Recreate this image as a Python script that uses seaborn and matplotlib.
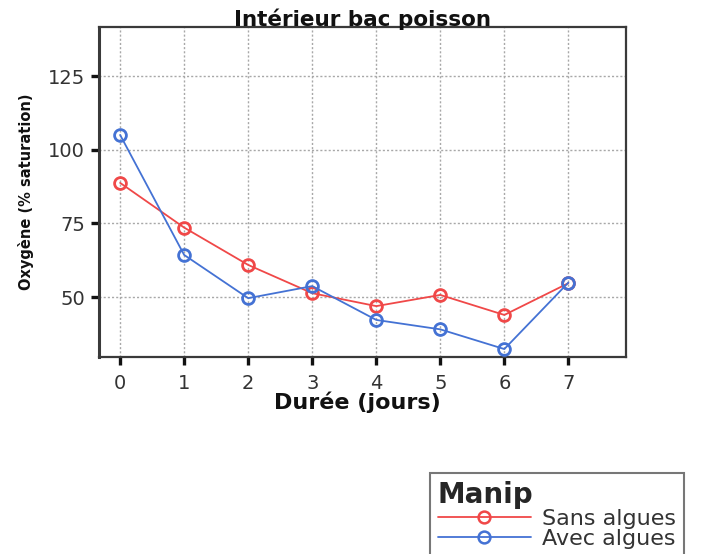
import matplotlib
matplotlib.use("Agg")
import matplotlib.pyplot as plt
from matplotlib.lines import Line2D
import seaborn as sns
import pandas as pd

# Oxygen measurements inside the fish tank, per day
jours = [0, 1, 2, 3, 4, 5, 6, 7]
sans_algues = [88.8, 73.6, 60.9, 51.3, 46.9, 50.7, 43.9, 54.7]
avec_algues = [105.1, 64.3, 49.6, 53.7, 42.2, 39.0, 32.3, 54.9]
groupes = ["Sans algues", "Avec algues"]
couleurs = {"Sans algues": "#f04848", "Avec algues": "#4472d4"}

df = pd.DataFrame({
    "Durée (jours)": jours * 2,
    "Oxygène": sans_algues + avec_algues,
    "Manip": [groupes[0]] * len(jours) + [groupes[1]] * len(jours),
})

sns.set_theme(style="white")
plt.rcParams["font.family"] = ["DejaVu Sans"]

W, H = 719, 554
fig = plt.figure(figsize=(W / 100, H / 100), dpi=100)
ax = fig.add_axes([99 / W, 1 - 357 / H, (626 - 99) / W, (357 - 27) / H])

sns.lineplot(data=df, x="Durée (jours)", y="Oxygène", hue="Manip",
             hue_order=groupes, palette=couleurs, marker="o", markersize=8.5,
             linewidth=1.3, ax=ax, legend=False, zorder=3)
for ln in ax.lines:
    c = ln.get_color()
    ln.set_markerfacecolor("none")
    ln.set_markeredgecolor(c)
    ln.set_markeredgewidth(2.0)

ax.set_xlim(-0.33, 7.9)
ax.set_ylim(29.6, 141.8)
ax.set_xticks(jours)
ax.set_yticks([50, 75, 100, 125])

ax.grid(True, color="#a8a8a8", linestyle=(0, (1.5, 1.5)), linewidth=1.0)
ax.set_axisbelow(True)
for s in ax.spines.values():
    s.set_color("#3a3a3a")
    s.set_linewidth(1.6)
    s.set_visible(True)
ax.spines["left"].set_linewidth(2.2)

ax.tick_params(axis="both", direction="out", length=6, width=2.4,
               color="#111111", labelsize=14, labelcolor="#333333")
ax.tick_params(axis="x", bottom=True, pad=6)
ax.tick_params(axis="y", left=True, pad=4)

ax.set_title("Intérieur bac poisson", fontsize=15.5, fontweight="bold",
             color="#111111", pad=1)
ax.set_xlabel("Durée (jours)", fontsize=16, fontweight="bold",
              color="#111111", labelpad=5)
ax.xaxis.set_label_coords(0.49, -0.105)
ax.set_ylabel("Oxygène (% saturation)", fontsize=10.5, fontweight="bold",
              color="#111111", labelpad=10)

handles = [Line2D([], [], color=couleurs[g], marker="o", markersize=8.5,
                  markerfacecolor="none", markeredgecolor=couleurs[g],
                  markeredgewidth=1.8, linewidth=1.3) for g in groupes]
leg = fig.legend(handles, groupes, title="Manip", loc="upper left",
                 bbox_to_anchor=(430 / W, 1 - 473 / H), frameon=True,
                 fancybox=False, edgecolor="#555555", fontsize=16,
                 title_fontproperties={"weight": "bold", "size": 20},
                 alignment="left", handlelength=4.2, handletextpad=0.5,
                 labelspacing=0.0, borderpad=0.35, borderaxespad=0)
leg.get_frame().set_linewidth(1.5)
for t in leg.get_texts():
    t.set_color("#333333")

fig.savefig("out.png", dpi=100)
